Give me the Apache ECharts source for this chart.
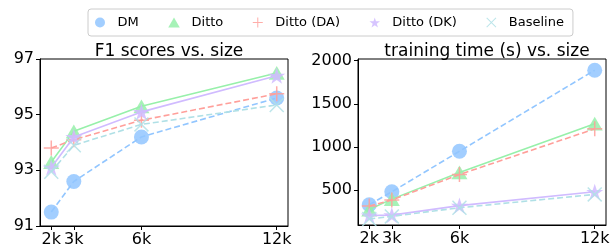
<!DOCTYPE html>
<html><head><meta charset="utf-8">
<script src="https://cdn.jsdelivr.net/npm/echarts@6/dist/echarts.min.js"></script>
<style>html,body{margin:0;padding:0;background:#fff}#c{width:615px;height:249px}</style>
</head><body><div id="c"></div>
<script>
const sizes = [2000, 3000, 6000, 12000];
const xTicks = [2000, 3000, 6000, 12000];
const seriesNames = ['DM', 'Ditto', 'Ditto (DA)', 'Ditto (DK)', 'Baseline'];
// F1 scores
const f1DM = [91.5, 92.6, 94.2, 95.6];
const f1Ditto = [93.3, 94.4, 95.3, 96.5];
const f1DA = [93.8, 94.1, 94.8, 95.75];
const f1DK = [93.1, 94.2, 95.1, 96.4];
const f1Base = [92.95, 93.9, 94.65, 95.35];
const f1Ticks = [91, 93, 95, 97];
// training time
const ttDM = [330, 480, 950, 1890];
const ttDitto = [275, 395, 705, 1270];
const ttDA = [315, 385, 680, 1210];
const ttDK = [205, 210, 320, 480];
const ttBase = [165, 195, 295, 450];
const ttTicks = [500, 1000, 1500, 2000];

const colors = ['#92C6FF', '#97F0AA', '#FF9F9A', '#D0BBFF', '#B0E0E6'];
const dashed = [true, false, true, false, true];
const TRI = 'path://M10,0 L20,17.3 L0,17.3 Z';
const PLUS = 'path://M9,0 L11,0 L11,9 L20,9 L20,11 L11,11 L11,20 L9,20 L9,11 L0,11 L0,9 L9,9 Z';
const XMARK = 'path://M0,1.4 L1.4,0 L10,8.6 L18.6,0 L20,1.4 L11.4,10 L20,18.6 L18.6,20 L10,11.4 L1.4,20 L0,18.6 L8.6,10 Z';
const STAR = 'path://M10,0 L12.245,6.91 L19.511,6.91 L13.633,11.18 L15.878,18.09 L10,13.82 L4.122,18.09 L6.367,11.18 L0.489,6.91 L7.755,6.91 Z';
const symbols = ['circle', TRI, PLUS, STAR, XMARK];
const symSizes = [15, 16, 15, 17, 15];

const FONT = 'DejaVu Sans';
const chart = echarts.init(document.getElementById('c'), null, {renderer: 'canvas'});

function mkSeries(idx, data, gi) {
  return {
    type: 'line', name: seriesNames[idx], xAxisIndex: gi, yAxisIndex: gi,
    data: sizes.map((s, i) => [s, data[i]]),
    symbol: symbols[idx], symbolSize: symSizes[idx], symbolKeepAspect: true,
    showAllSymbol: true,
    itemStyle: {color: colors[idx], opacity: 0.85},
    lineStyle: {color: colors[idx], width: 1.6, type: dashed[idx] ? [6, 3] : 'solid'},
    emphasis: {disabled: true}, animation: false, z: 2 + idx
  };
}
const f1Data = [f1DM, f1Ditto, f1DA, f1DK, f1Base];
const ttData = [ttDM, ttDitto, ttDA, ttDK, ttBase];
const series = [];
f1Data.forEach((d, i) => series.push(mkSeries(i, d, 0)));
ttData.forEach((d, i) => series.push(mkSeries(i, d, 1)));

const xAxisBase = (gi) => ({
  type: 'value', gridIndex: gi, min: 1500, max: 12500,
  axisLine: {show: true, lineStyle: {color: '#000', width: 1}},
  axisTick: {show: true, length: 4, lineStyle: {color: '#000'}, customValues: xTicks},
  axisLabel: {color: '#000', fontFamily: FONT, fontSize: 16, margin: 6, customValues: xTicks,
    formatter: v => (v / 1000) + 'k'},
  splitLine: {show: false}
});

const option = {
  backgroundColor: '#fff',
  animation: false,
  title: [
    {text: 'F1 scores vs. size', left: 164, top: 38, textAlign: 'center',
      textStyle: {fontFamily: FONT, fontSize: 17, fontWeight: 'normal', color: '#000'}},
    {text: 'training time (s) vs. size', left: 482, top: 38, textAlign: 'center',
      textStyle: {fontFamily: FONT, fontSize: 17, fontWeight: 'normal', color: '#000'}}
  ],
  legend: {
    left: 88, top: 9, orient: 'horizontal',
    itemWidth: 25, itemHeight: 10, itemGap: 29.5,
    padding: [7, 9, 7, 7],
    borderColor: '#cccccc', borderWidth: 1, borderRadius: 3, backgroundColor: '#fff',
    textStyle: {fontFamily: FONT, fontSize: 13, color: '#000'},
    data: seriesNames.map((n, i) => ({name: n, icon: symbols[i]})),
    symbolKeepAspect: true,
    selectedMode: false
  },
  grid: [
    {left: 40, right: 327, top: 59, bottom: 23, show: true, borderColor: '#000', borderWidth: 1, backgroundColor: 'transparent'},
    {left: 358, right: 9, top: 59, bottom: 24, show: true, borderColor: '#000', borderWidth: 1, backgroundColor: 'transparent'}
  ],
  xAxis: [xAxisBase(0), xAxisBase(1)],
  yAxis: [
    {type: 'value', gridIndex: 0, min: 91, max: 97,
      axisLine: {show: true, lineStyle: {color: '#000'}},
      axisTick: {show: true, length: 4, lineStyle: {color: '#000'}, customValues: f1Ticks},
      axisLabel: {color: '#000', fontFamily: FONT, fontSize: 16, margin: 6, customValues: f1Ticks,
        formatter: v => String(v)},
      splitLine: {show: false}},
    {type: 'value', gridIndex: 1, min: 95, max: 2020,
      axisLine: {show: true, lineStyle: {color: '#000'}},
      axisTick: {show: true, length: 4, lineStyle: {color: '#000'}, customValues: ttTicks},
      axisLabel: {color: '#000', fontFamily: FONT, fontSize: 16, margin: 6, customValues: ttTicks,
        formatter: v => String(v)},
      splitLine: {show: false}}
  ],
  series: series
};
chart.setOption(option);
</script>
</body></html>
